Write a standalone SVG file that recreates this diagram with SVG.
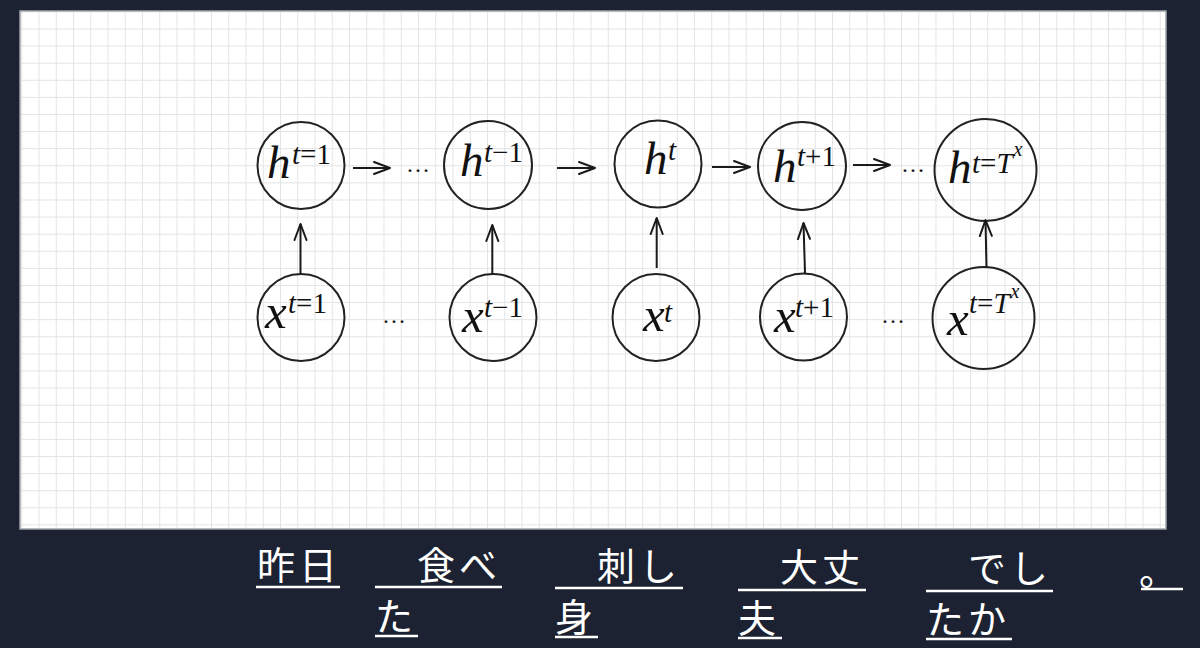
<svg xmlns="http://www.w3.org/2000/svg" width="1200" height="648" viewBox="0 0 1200 648">
<defs>
<pattern id="grid" patternUnits="userSpaceOnUse" x="38.5" y="28.5" width="17.25" height="17.1">
<path d="M0.5,0 V17.1 M0,0.5 H17.25" stroke="#e3e3e3" stroke-width="1" fill="none"/>
</pattern>
<marker id="ah" markerUnits="userSpaceOnUse" markerWidth="20" markerHeight="16" refX="17" refY="7" orient="auto" viewBox="0 0 20 14">
<path d="M1,1 L17,7 L1,13" fill="none" stroke="#1a1a1a" stroke-width="2" stroke-linecap="round" stroke-linejoin="round"/>
</marker>
</defs>
<style>
.node circle{fill:none;stroke:#222;stroke-width:2}
.m{font-family:"Liberation Serif","Times New Roman",serif;font-style:italic;fill:#111}
.big{font-size:47px}
.bigx{font-size:49px}
.s{font-size:29px}
.u{font-style:normal}
.ss{font-size:20px}
.dots{font-family:"Liberation Serif",serif;font-size:24px;fill:#111}
.conn line{stroke:#1a1a1a;stroke-width:2;marker-end:url(#ah)}
.jp{font-family:"Noto Sans CJK JP","Noto Sans CJK SC",sans-serif;font-size:38px;fill:#fff;letter-spacing:4px}
.ul line{stroke:#fff;stroke-width:2.5}
</style>
<rect x="0" y="0" width="1200" height="648" fill="#1c2231"/>
<rect x="20" y="11" width="1146" height="518" fill="#fff" stroke="#a0a4aa" stroke-width="1.5"/>
<rect x="21" y="12" width="1144" height="516" fill="url(#grid)"/>

<g id="h1" class="node"><circle cx="301" cy="165.5" r="43.5"/>
<text class="m big" x="267" y="178">h<tspan class="s" x="292" y="164">t</tspan><tspan class="s u">=1</tspan></text></g>
<g id="h_tm1" class="node"><circle cx="488" cy="165" r="44"/>
<text class="m big" x="460" y="176">h<tspan class="s" x="484" y="162">t</tspan><tspan class="s u">−1</tspan></text></g>
<g id="h_t" class="node"><circle cx="658" cy="164" r="43.5"/>
<text class="m big" x="644" y="174">h<tspan class="s" x="668" y="160">t</tspan></text></g>
<g id="h_tp1" class="node"><circle cx="802" cy="166" r="44"/>
<text class="m big" x="773" y="182">h<tspan class="s" x="797" y="166">t</tspan><tspan class="s u">+1</tspan></text></g>
<g id="h_T" class="node"><circle cx="985.5" cy="170" r="51"/>
<text class="m big" x="948" y="183">h<tspan class="s" x="972" y="173">t</tspan><tspan class="s u">=</tspan><tspan class="s">T</tspan><tspan class="ss" dx="1" dy="-17">x</tspan></text></g>

<g id="x1" class="node"><circle cx="301" cy="317.5" r="43.5"/>
<text class="m bigx" x="265" y="328">x<tspan class="s" x="288" y="313">t</tspan><tspan class="s u">=1</tspan></text></g>
<g id="x_tm1" class="node"><circle cx="493" cy="317.5" r="43.5"/>
<text class="m bigx" x="462" y="332">x<tspan class="s" x="484" y="317">t</tspan><tspan class="s u">−1</tspan></text></g>
<g id="x_t" class="node"><circle cx="656" cy="317.5" r="43.5"/>
<text class="m bigx" x="643" y="331">x<tspan class="s" x="664" y="322">t</tspan></text></g>
<g id="x_tp1" class="node"><circle cx="803.5" cy="317" r="43.5"/>
<text class="m bigx" x="774" y="332">x<tspan class="s" x="795" y="317">t</tspan><tspan class="s u">+1</tspan></text></g>
<g id="x_T" class="node"><circle cx="983.5" cy="318" r="51"/>
<text class="m bigx" x="947" y="335">x<tspan class="s" x="969" y="313">t</tspan><tspan class="s u">=</tspan><tspan class="s">T</tspan><tspan class="ss" dx="1" dy="-15">x</tspan></text></g>

<g id="ellipses">
<text class="dots" x="406" y="172">…</text>
<text class="dots" x="901" y="172">…</text>
<text class="dots" x="382" y="323">…</text>
<text class="dots" x="881" y="323">…</text>
</g>

<g id="connectors" class="conn">
<line x1="353" y1="168" x2="390" y2="168"/>
<line x1="557" y1="168" x2="595" y2="168"/>
<line x1="712" y1="167" x2="750" y2="167"/>
<line x1="853" y1="165" x2="890" y2="165"/>
<line x1="300.5" y1="274" x2="300.5" y2="224"/>
<line x1="492.3" y1="274" x2="492.3" y2="225"/>
<line x1="656.7" y1="268" x2="656.7" y2="218"/>
<line x1="805" y1="273" x2="803.5" y2="223"/>
<line x1="986.5" y1="268" x2="985.5" y2="220"/>
</g>

<g id="japanese">
<text class="jp" x="257" y="579">昨日</text>
<text class="jp" x="375" y="579">　食べ</text>
<text class="jp" x="375" y="630">た</text>
<text class="jp" x="555" y="580">　刺し</text>
<text class="jp" x="555" y="631">身</text>
<text class="jp" x="738" y="581">　大丈</text>
<text class="jp" x="738" y="632">夫</text>
<text class="jp" x="926" y="582">　でし</text>
<text class="jp" x="926" y="633">たか</text>
<text class="jp" x="1139" y="585">。</text>
<g class="ul">
<line x1="256" y1="587" x2="340" y2="587"/>
<line x1="375" y1="587" x2="502" y2="587"/>
<line x1="375" y1="636" x2="418" y2="636"/>
<line x1="555" y1="588" x2="683" y2="588"/>
<line x1="555" y1="637" x2="598" y2="637"/>
<line x1="738" y1="590" x2="866" y2="590"/>
<line x1="738" y1="638" x2="782" y2="638"/>
<line x1="926" y1="591" x2="1053" y2="591"/>
<line x1="926" y1="639" x2="1012" y2="639"/>
<line x1="1141" y1="589" x2="1183" y2="589"/>
</g>
</g>
</svg>
